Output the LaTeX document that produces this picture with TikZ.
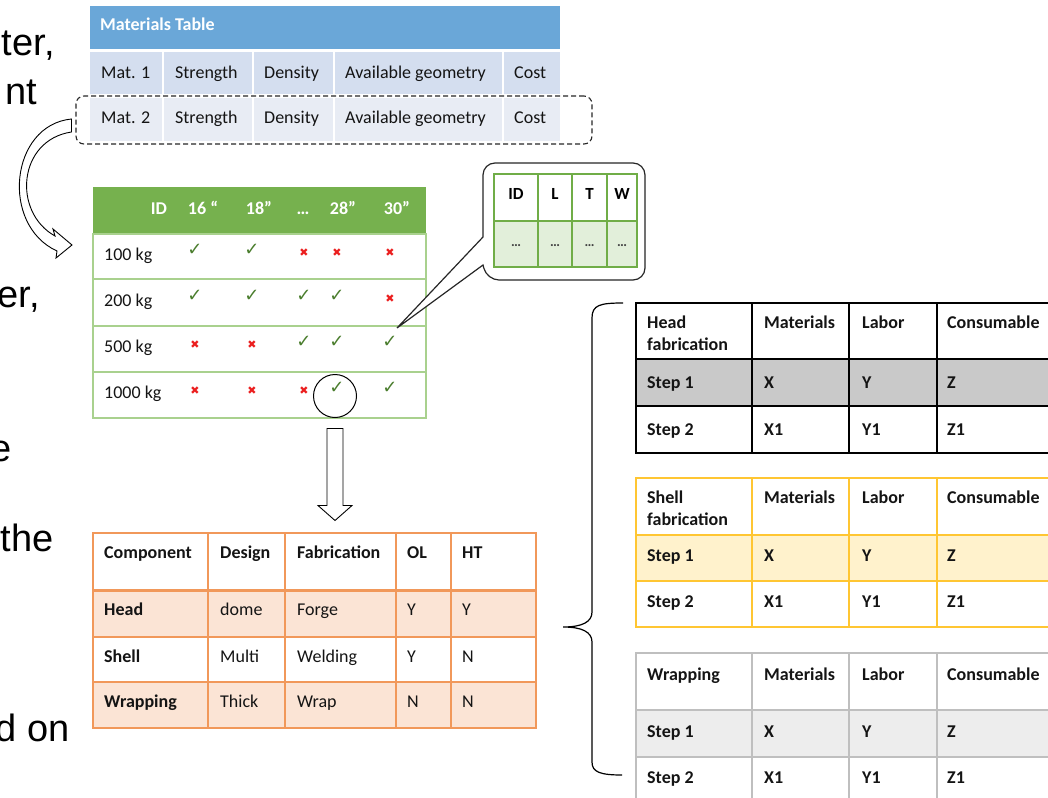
\documentclass[tikz,border=0pt]{standalone}
\usepackage{fontspec}
\setmainfont{Carlito}
\newfontfamily\arialf{Liberation Sans}
\newfontfamily\dejavu{DejaVu Sans}
\usetikzlibrary{calc}
\definecolor{txt}{RGB}{20,20,20}
\definecolor{matblue}{RGB}{106,167,216}
\definecolor{matrowA}{RGB}{212,222,239}
\definecolor{matrowB}{RGB}{232,236,244}
\definecolor{ghead}{RGB}{118,177,78}
\definecolor{gline}{RGB}{169,209,142}
\definecolor{gdark}{RGB}{112,173,71}
\definecolor{gfill}{RGB}{226,239,218}
\definecolor{chkgreen}{RGB}{74,125,45}
\definecolor{crossred}{RGB}{235,30,30}
\definecolor{oline}{RGB}{241,152,90}
\definecolor{ofill}{RGB}{251,228,213}
\definecolor{yline}{RGB}{255,198,50}
\definecolor{yfill}{RGB}{255,242,204}
\definecolor{grayA}{RGB}{201,201,201}
\definecolor{grayline}{RGB}{191,191,191}
\definecolor{grayB}{RGB}{237,237,237}
\begin{document}
\begin{tikzpicture}[x=1pt,y=-1pt,
  tx/.style={font=\fontsize{18}{21}\selectfont, text=txt, inner sep=0pt, anchor=base west},
  txb/.style={font=\bfseries\fontsize{18}{21}\selectfont, text=txt, inner sep=0pt, anchor=base west},
  big/.style={font=\arialf\fontsize{38}{44}\selectfont, text=black, inner sep=0pt, anchor=base east},
  hw/.style={font=\bfseries\fontsize{18}{21}\selectfont, text=white, inner sep=0pt, anchor=base},
  cb/.style={font=\bfseries\fontsize{17}{20}\selectfont, text=black, inner sep=0pt, anchor=base},
  cd/.style={font=\bfseries\fontsize{14}{15}\selectfont, text=txt!80, inner sep=0pt, anchor=base},
  mkc/.style={font=\dejavu\fontsize{18}{18}\selectfont, text=chkgreen, inner sep=0pt},
  mkx/.style={font=\dejavu\fontsize{11}{11}\selectfont, text=crossred, inner sep=0pt},
  hollow/.style={draw=black, fill=white, line width=0.9pt, line join=miter},
]
\useasboundingbox (0,0) rectangle (1048,797);
\clip (0,0) rectangle (1048,797);

% ---------- left text fragments ----------
\node[big] (t1) at (55,56) {ter,};
\node[big] (t2) at (37,104) {nt};
\node[big] (t3) at (40,307) {er,};
\node[big] (t4) at (12,461) {e};
\node[big] (t5) at (54,551) {the};
\node[big] (t6) at (70,741) {d on};

% ---------- materials table ----------
\fill[matblue] (90,6) rectangle (560,49);
\fill[matrowA] (90,52) rectangle (560,94);
\fill[matrowB] (90,98) rectangle (560,141);
\foreach \x in {163,253,334,503} \draw[white, line width=2.5pt] (\x,52) -- (\x,141);
\node[hw, anchor=base west] (mtitle) at (100,31) {Materials Table};
\foreach \t/\x [count=\i] in {Mat. 1/101, Strength/175, Density/264, Available geometry/345, Cost/514}
  \node[tx] (ma\i) at (\x,79) {\t};
\foreach \t/\x [count=\i] in {Mat. 2/101, Strength/175, Density/264, Available geometry/345, Cost/514}
  \node[tx] (mb\i) at (\x,124) {\t};
\node[draw=black!85, dashed, dash pattern=on 5pt off 3pt, line width=1.1pt, rounded corners=8pt,
      minimum width=516pt, minimum height=48pt, inner sep=0pt] (mat2box) at (334,120) {};

% ---------- curved hollow arrow ----------
\coordinate (caS) at ($(mat2box.west)+(-4,0)$);
\draw[hollow] ($(caS)+(0,-1)$) .. controls (10,125) and (0,225) .. (57,251)
   -- (56,258) -- (72,245) -- (53,229) -- (55,236)
   .. controls (12,212) and (18,140) .. ($(caS)+(0,12)$) -- cycle;

% ---------- green table ----------
\fill[ghead] (93,187) rectangle (426,234);
\draw[gline, line width=1.3pt] (93,234) rectangle (426,418);
\foreach \y in {279,326,372} \draw[gline, line width=1.3pt] (93,\y) -- (426,\y);
\node[minimum width=333pt, minimum height=231pt, inner sep=0pt] (gtab) at (259.5,302.5) {};
\foreach \t/\x [count=\i] in {ID/159, 16 “/203, 18”/259, \textellipsis/303, 28”/343, 30”/397}
  \node[hw] (gh\i) at (\x,214) {\t};
\foreach \t/\y [count=\i] in {100 kg/260, 200 kg/306, 500 kg/352, 1000 kg/398}
  \node[tx] (gr\i) at (104,\y) {\t};
\foreach \m/\x [count=\k] in {c/195,c/252,x/304,x/337,x/390}
  {\if\m c\node[mkc] (g1-\k) at (\x,250) {✓};\else\node[mkx] (g1-\k) at (\x,253) {✖};\fi}
\foreach \m/\x [count=\k] in {c/195,c/252,c/304,c/337,x/390}
  {\if\m c\node[mkc] (g2-\k) at (\x,296) {✓};\else\node[mkx] (g2-\k) at (\x,299) {✖};\fi}
\foreach \m/\x [count=\k] in {x/195,x/252,c/304,c/337,c/390}
  {\if\m c\node[mkc] (g3-\k) at (\x,342) {✓};\else\node[mkx] (g3-\k) at (\x,345) {✖};\fi}
\foreach \m/\x [count=\k] in {x/195,x/252,x/304,c/337,c/390}
  {\if\m c\node[mkc] (g4-\k) at (\x,388) {✓};\else\node[mkx] (g4-\k) at (\x,391) {✖};\fi}
\node[draw=black, circle, line width=1pt, minimum size=43pt, inner sep=0pt] (circ) at (335,396) {};

% ---------- callout ----------
\coordinate (ctip) at ($(g3-5)+(7,-14)$);
\draw[draw=black!85, fill=white, line width=1.2pt] (ctip) -- (483,237) [rounded corners=12pt] -- (483,163) -- (645,163) -- (645,280) -- (487,280) [sharp corners] -- (483,265) -- cycle;
\fill[gfill] (494,221) rectangle (637,267);
\draw[gdark, line width=1.2pt] (494,174) rectangle (637,267);
\draw[gdark, line width=2.4pt] (494,221) -- (637,221);
\foreach \x in {538,572,607} \draw[gdark, line width=1.2pt] (\x,174) -- (\x,267);
\foreach \t/\x [count=\i] in {ID/516, L/555, T/589.5, W/622}
  {\node[cb] (ch\i) at (\x,199) {\t}; \node[cd] (cr\i) at (\x,246) {\textellipsis};}

% ---------- down arrow ----------
\coordinate (daT) at ($(circ.south)+(0,10.5)$);
\draw[hollow] ($(daT)+(-8,0)$) -- ($(daT)+(8,0)$) -- ($(daT)+(8,77)$) -- ($(daT)+(17,77)$)
  -- ($(daT)+(0,92)$) -- ($(daT)+(-17,77)$) -- ($(daT)+(-8,77)$) -- cycle;

% ---------- orange table ----------
\fill[ofill] (93,590) rectangle (536,637);
\fill[ofill] (93,682) rectangle (536,728);
\draw[oline, line width=1.8pt] (93,533) rectangle (536,728);
\draw[oline, line width=3pt] (93,590) -- (536,590);
\foreach \y in {637,682} \draw[oline, line width=1.8pt] (93,\y) -- (536,\y);
\foreach \x in {208,285,396,451} \draw[oline, line width=1.8pt] (\x,533) -- (\x,728);
\node[minimum width=443pt, minimum height=195pt, inner sep=0pt] (otab) at (314.5,630.5) {};
\foreach \t/\x [count=\i] in {Component/104, Design/220, Fabrication/297, OL/407, HT/462}
  \node[txb] (oh\i) at (\x,558) {\t};
\foreach \a/\b/\c/\d/\e/\y [count=\r] in {Head/dome/Forge/Y/Y/615, Shell/Multi/Welding/Y/N/662, Wrapping/Thick/Wrap/N/N/707}{
  \node[txb] (o\r-1) at (104,\y) {\a};
  \node[tx] (o\r-2) at (220,\y) {\b};
  \node[tx] (o\r-3) at (297,\y) {\c};
  \node[tx] (o\r-4) at (407,\y) {\d};
  \node[tx] (o\r-5) at (462,\y) {\e};
}

% ---------- brace ----------
\coordinate (brTip) at ($(otab.east)+(27,-3.5)$);
\draw[black, line width=1.2pt] (623,303) .. controls (600,303) and (592,305) .. (592,318) -- (592,612)
  .. controls (592,622) and (582,627) .. (brTip)
  .. controls (582,627) and (592,632) .. (592,642) -- (592,762)
  .. controls (592,772) and (600,775) .. (622,775);

% ---------- right table 1 ----------
\fill[grayA] (636,359) rectangle (1060,406);
\draw[black, line width=1.4pt] (1060,303) -- (636,303) -- (636,453) -- (1060,453);
\draw[black, line width=1.4pt] (636,406) -- (1060,406);
\draw[black, line width=2.4pt] (636,359) -- (1060,359);
\foreach \x in {752,849,937} \draw[black, line width=1.4pt] (\x,303) -- (\x,453);
\node[txb] (a0a) at (647,328) {Head};
\node[txb] (a0b) at (647,350) {fabrication};
\node[txb] (a0c) at (764,328) {Materials};
\node[txb] (a0d) at (862,328) {Labor};
\node[txb] (a0e) at (947,328) {Consumable};
\foreach \s/\p/\q/\r/\y [count=\i] in {Step 1/X/Y/Z/388, Step 2/X1/Y1/Z1/435}{
  \node[txb] (a\i a) at (647,\y) {\s};
  \node[txb] (a\i b) at (764,\y) {\p};
  \node[txb] (a\i c) at (862,\y) {\q};
  \node[txb] (a\i d) at (947,\y) {\r};
}

% ---------- right table 2 ----------
\fill[yfill] (636,535) rectangle (1060,581);
\draw[yline, line width=1.8pt] (1060,478) -- (636,478) -- (636,627) -- (1060,627);
\draw[yline, line width=1.8pt] (636,581) -- (1060,581);
\draw[yline, line width=2.8pt] (636,535) -- (1060,535);
\foreach \x in {752,849,937} \draw[yline, line width=1.8pt] (\x,478) -- (\x,627);
\node[txb] (b0a) at (647,503) {Shell};
\node[txb] (b0b) at (647,525) {fabrication};
\node[txb] (b0c) at (764,503) {Materials};
\node[txb] (b0d) at (862,503) {Labor};
\node[txb] (b0e) at (947,503) {Consumable};
\foreach \s/\p/\q/\r/\y [count=\i] in {Step 1/X/Y/Z/561, Step 2/X1/Y1/Z1/607}{
  \node[txb] (b\i a) at (647,\y) {\s};
  \node[txb] (b\i b) at (764,\y) {\p};
  \node[txb] (b\i c) at (862,\y) {\q};
  \node[txb] (b\i d) at (947,\y) {\r};
}

% ---------- right table 3 ----------
\fill[grayB] (636,710) rectangle (1060,757);
\draw[grayline, line width=1.4pt] (1060,653) -- (636,653) -- (636,810);
\draw[grayline, line width=1.4pt] (636,757) -- (1060,757);
\draw[grayline, line width=2.4pt] (636,710) -- (1060,710);
\foreach \x in {752,849,937} \draw[grayline, line width=1.4pt] (\x,653) -- (\x,810);
\node[txb] (c0a) at (647,680) {Wrapping};
\node[txb] (c0c) at (764,680) {Materials};
\node[txb] (c0d) at (862,680) {Labor};
\node[txb] (c0e) at (947,680) {Consumable};
\foreach \s/\p/\q/\r/\y [count=\i] in {Step 1/X/Y/Z/737, Step 2/X1/Y1/Z1/783}{
  \node[txb] (c\i a) at (647,\y) {\s};
  \node[txb] (c\i b) at (764,\y) {\p};
  \node[txb] (c\i c) at (862,\y) {\q};
  \node[txb] (c\i d) at (947,\y) {\r};
}
\end{tikzpicture}
\end{document}
